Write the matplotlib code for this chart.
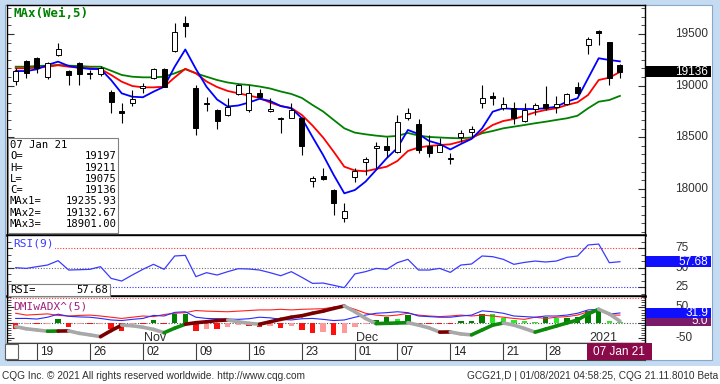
import numpy as np
import matplotlib
matplotlib.use("Agg")
import matplotlib.pyplot as plt
from matplotlib.patches import Rectangle
from matplotlib.collections import LineCollection
from matplotlib.ticker import MultipleLocator

W, H = 720, 384

# ---- daily bars, 15 Oct 2020 .. 07 Jan 2021 ----
opens = [19045, 19239, 19265, 19087, 19297, 19142, 19223, 19110, 19113, 18942,
         18745, 18829, 18980, 19072, 19162, 19336, 19610, 18975, 18820, 18762,
         18716, 18915, 18765, 18926, 18750, 18675, 18690, 18684, 18077, 18125,
         17990, 17715, 18112, 18264, 18398, 18419, 18360, 18684, 18626, 18419,
         18360, 18290, 18506, 18554, 18835, 18903, 18787, 18787, 18658, 18771,
         18820, 18794, 18820, 18990, 19394, 19530, 19420, 19197]
highs = [19169, 19249, 19281, 19233, 19411, 19150, 19233, 19152, 19191, 18958,
         18829, 18958, 19023, 19169, 19174, 19605, 19675, 19007, 18893, 18770,
         18878, 19015, 19007, 18968, 18878, 18695, 18830, 18700, 18128, 18200,
         18000, 17860, 18200, 18312, 18452, 18506, 18716, 18781, 18674, 18522,
         18496, 18345, 18571, 18612, 19007, 18936, 18893, 18845, 18829, 18829,
         18997, 18903, 18932, 19033, 19475, 19540, 19426, 19211]
lows = [19007, 19072, 19126, 19062, 19290, 19007, 19007, 19065, 19094, 18738,
        18641, 18803, 18926, 19062, 18984, 19329, 19469, 18522, 18755, 18580,
        18710, 18905, 18748, 18878, 18742, 18540, 18684, 18328, 18021, 18090,
        17747, 17682, 18070, 18135, 18200, 18312, 18350, 18668, 18345, 18312,
        18355, 18238, 18457, 18506, 18781, 18813, 18765, 18626, 18651, 18716,
        18765, 18733, 18813, 18910, 19304, 19395, 19007, 19075]
closes = [19142, 19120, 19169, 19217, 19353, 19104, 19113, 19115, 19174, 18845,
          18740, 18868, 18990, 19159, 18990, 19523, 19578, 18587, 18825, 18658,
          18797, 19005, 18926, 18893, 18770, 18690, 18765, 18419, 18103, 18096,
          17860, 17789, 18176, 18287, 18403, 18377, 18645, 18733, 18377, 18351,
          18425, 18297, 18539, 18580, 18884, 18878, 18820, 18684, 18765, 18813,
          18787, 18820, 18917, 18926, 19450, 19515, 19072, 19136]

ma1 = [19142, 19142, 19159, 19201, 19233, 19191, 19174, 19162, 19162, 19055,
       18926, 18893, 18888, 18942, 18990, 19184, 19351, 19162, 18990, 18866,
       18798, 18808, 18837, 18873, 18852, 18803, 18781, 18684, 18503, 18328,
       18135, 17957, 17989, 18070, 18183, 18297, 18396, 18571, 18532, 18464,
       18435, 18382, 18435, 18484, 18587, 18748, 18781, 18774, 18774, 18774,
       18781, 18797, 18845, 18878, 19072, 19266, 19249, 19235.93]
ma2 = [19169, 19169, 19174, 19184, 19198, 19184, 19174, 19169, 19162, 19104,
       19039, 18997, 18984, 18984, 18990, 19080, 19164, 19120, 19041, 18987,
       18949, 18926, 18905, 18881, 18837, 18803, 18784, 18716, 18614, 18498,
       18360, 18215, 18178, 18171, 18193, 18215, 18270, 18367, 18401, 18416,
       18425, 18432, 18459, 18488, 18554, 18619, 18658, 18677, 18709, 18742,
       18765, 18781, 18813, 18839, 18910, 19055, 19078, 19132.67]
ma3 = [19184, 19184, 19191, 19194, 19201, 19194, 19191, 19184, 19184, 19145,
       19104, 19087, 19081, 19081, 19087, 19120, 19160, 19120, 19087, 19055,
       19031, 19016, 19007, 18992, 18973, 18944, 18920, 18881, 18813, 18750,
       18668, 18587, 18545, 18529, 18516, 18506, 18513, 18542, 18517, 18503,
       18498, 18493, 18490, 18498, 18539, 18561, 18587, 18603, 18619, 18636,
       18651, 18668, 18684, 18709, 18781, 18845, 18861, 18901.00]

rsi = [50, 49.1, 51.3, 53.4, 59, 47, 47.4, 47.9, 51.3, 36.3,
       32.9, 40.6, 47.9, 54.3, 47.9, 65, 65.8, 38.5, 43.6, 40.6,
       44.9, 48.7, 48.3, 47, 43.6, 39.7, 44.9, 37.6, 29.9, 30.3,
       27.4, 24.4, 42, 44.9, 49.1, 47.9, 56.4, 60.7, 47, 47,
       49.1, 44, 53.4, 54.7, 65, 64.1, 60.7, 54.3, 56.8, 58.5,
       57.3, 58.5, 63.2, 65, 79.1, 80.3, 56.4, 57.68]

di_plus = [14, 14, 12, 18, 28, 21, 19, 18, 14, 9,
           7, 11, 14, 24, 22, 34, 36, 18, 14, 13,
           12, 11, 13, 18, 16, 11, 9, 13, 14, 11,
           7, 9, 18, 25, 31, 33, 36, 33, 22, 20,
           18, 18, 22, 25, 39, 36, 31, 22, 20, 18,
           22, 22, 25, 31, 42, 44, 28, 31.9]
di_minus = [31, 25, 27, 29, 24, 22, 24, 25, 22, 18,
            14, 18, 22, 20, 27, 31, 33, 40, 38, 37,
            36, 38, 40, 42, 42, 44, 42, 44, 45, 46,
            51, 55, 44, 31, 25, 22, 25, 31, 25, 22,
            20, 22, 25, 22, 25, 22, 18, 14, 11, 18,
            14, 18, 20, 25, 36, 42, 25, 25]
dmi_hist = [-20, -5, -5, -4, 13, -13, -5, -5, -4, -22,
            -27, -4, -4, 9, -3, 27, 27, -27, -20, -22,
            -15, -8, -10, -15, -12, -18, -10, -25, -35, -32,
            -40, -35, -13, -3, 10, 20, 13, 24, -3, -3,
            -3, -3, 5, 5, 30, 27, 16, 10, 5, 3,
            20, 16, 16, 20, 38, 45, 5, 3]
wadx = [-13, -20, -24, -28, -27.5, -27, -35, -40, -46, -26,
        -8, -10, -15, -22, -33, -18, -5, 0, 3, 7,
        9, 3, -2, -5, 3, 11, 18, 23, 31, 38,
        47, 55, 36, 14, -3, -2, -1, 0, -8, -17,
        -31, -30.5, -37, -40, -24, -8, -1, -8, -19, -31,
        -21, -11, -1, 9, 29, 44, 29, 5]

week_bars = [2, 7, 12, 17, 22, 27, 32, 36, 41, 46, 50]
week_labels = ["19", "26", "02", "09", "16", "23", "01", "07", "14", "21", "28"]
month_bars = [12, 32, 54]
month_labels = ["Nov", "Dec", "2021"]
last_date = "07 Jan 21"

n = len(closes)
xs = np.arange(n)
X0, STEP = 15.7, 10.6          # pixel of first bar, pixels per bar
XL = ((7 - X0) / STEP, (645 - X0) / STEP)

SANS = "Liberation Sans"
MONO = "DejaVu Sans Mono"

fig = plt.figure(figsize=(W / 100, H / 100), dpi=100)
fig.patch.set_facecolor("white")


def box(x0, y0, x1, y1):
    return [x0 / W, 1 - y1 / H, (x1 - x0) / W, (y1 - y0) / H]


def fig_rect(x0, y0, x1, y1, **kw):
    fig.patches.append(Rectangle((x0 / W, 1 - y1 / H), (x1 - x0) / W, (y1 - y0) / H,
                                 transform=fig.transFigure, **kw))


def ftext(x, y, s, **kw):
    fig.text(x / W, 1 - y / H, s, **kw)


# window frame
for r in [(0, 0, 720, 5), (0, 0, 5, 366), (712, 0, 720, 366), (0, 360, 720, 366)]:
    fig_rect(*r, facecolor="#c4dbf1", edgecolor="none", zorder=-1)
fig_rect(5, 5, 712, 360, facecolor="none", edgecolor="#8aa8c8", linewidth=0.8, zorder=-1)


def panel(y0, y1, ylim, major, minor):
    ax = fig.add_axes(box(7, y0, 645, y1))
    ax.set_xlim(*XL)
    ax.set_ylim(*ylim)
    for s in ax.spines.values():
        s.set_color("black")
        s.set_linewidth(1.0)
    ax.tick_params(axis="x", bottom=False, labelbottom=False)
    ax.yaxis.set_major_locator(MultipleLocator(major))
    ax.yaxis.set_minor_locator(MultipleLocator(minor))
    ax.tick_params(axis="y", which="both", direction="in", left=True, right=True,
                   labelleft=False, labelright=False, color="#303030")
    ax.tick_params(axis="y", which="major", length=5, width=0.8)
    ax.tick_params(axis="y", which="minor", length=3, width=0.6)
    return ax


ax = panel(5, 235, (17553, 19782), 500, 500 / 6)
ax_r = panel(235, 296, (13.7, 91.9), 25, 25 / 3)
ax_d = panel(296, 343, (-66.8, 87.8), 50, 50 / 6)
ax.spines["bottom"].set_linewidth(1.8)
ax_r.spines["bottom"].set_linewidth(1.8)

# ---- price panel ----
ax.plot(xs, ma3, color="#008000", lw=1.3, zorder=2)
ax.plot(xs, ma2, color="#ff0000", lw=1.3, zorder=2)
ax.plot(xs, ma1, color="#0000ff", lw=1.3, zorder=2)
for i in range(n):
    o, h, l, c = opens[i], highs[i], lows[i], closes[i]
    ax.vlines(i, l, h, color="black", lw=0.8, zorder=3)
    up = c >= o
    ax.add_patch(Rectangle((i - 0.24, min(o, c)), 0.48, max(abs(c - o), 14),
                           facecolor="white" if up else "black", edgecolor="black",
                           lw=0.7, zorder=4))

ax.text(0.01, 0.962, "MAx(Wei,5)", transform=ax.transAxes, family=MONO, fontsize=9,
        fontweight="bold", color="#008000", va="center", ha="left")

# OHLC info box
fig_rect(8, 138, 118, 233, facecolor="white", edgecolor="#808080", linewidth=0.8, zorder=6)
ftext(10, 145, last_date, family=MONO, fontsize=7.6, va="center", zorder=7)
info = [("O=", f"{opens[-1]:.0f}"), ("H=", f"{highs[-1]:.0f}"), ("L=", f"{lows[-1]:.0f}"),
        ("C=", f"{closes[-1]:.0f}"), ("MAx1=", f"{ma1[-1]:.2f}"),
        ("MAx2=", f"{ma2[-1]:.2f}"), ("MAx3=", f"{ma3[-1]:.2f}")]
for k, (lab, val) in enumerate(info):
    y = 156.3 + 11.25 * k
    ftext(10, y, lab, family=MONO, fontsize=7.6, va="center", zorder=7)
    ftext(116.5, y, val, family=MONO, fontsize=7.6, va="center", ha="right", zorder=7)

# ---- RSI panel ----
for lvl, col in [(75, "#ff3030"), (50, "#707070"), (25, "#3030ff")]:
    ax_r.axhline(lvl, color=col, lw=0.8, ls=(0, (1, 1.5)), zorder=1)
ax_r.plot(xs, rsi, color="#3a3aff", lw=0.9, zorder=3)
ax_r.text(0.01, 0.86, "RSI(9)", transform=ax_r.transAxes, family=MONO, fontsize=8,
          color="#3a3aff", va="center", ha="left", zorder=5,
          bbox=dict(facecolor="white", edgecolor="none", pad=0.5))
fig_rect(8, 284, 110, 295.5, facecolor="white", edgecolor="#808080", linewidth=0.8, zorder=6)
ftext(10, 290, "RSI=", family=MONO, fontsize=7.6, va="center", zorder=7)
ftext(108, 290, f"{rsi[-1]:.2f}", family=MONO, fontsize=7.6, va="center", ha="right", zorder=7)

# ---- DMI panel ----
ax_d.axhline(80, color="#ff3030", lw=0.8, ls=(0, (1, 1.5)), zorder=1)
ax_d.axhline(0, color="#505050", lw=0.8, ls=(0, (1, 1.5)), zorder=1)
hcols = []
for i, v in enumerate(dmi_hist):
    prev = dmi_hist[i - 1] if i else v
    if v >= 0:
        hcols.append("#008000" if v >= prev else "#22ee22")
    else:
        hcols.append("#ff1010" if v <= prev else "#ff9a9a")
ax_d.bar(xs, dmi_hist, width=0.5, color=hcols, zorder=2)
ax_d.plot(xs, di_minus, color="#ff2020", lw=0.8, zorder=3)
ax_d.plot(xs, di_plus, color="#2a2aff", lw=0.8, zorder=3)
segs, scols = [], []
for i in range(1, n):
    segs.append([(i - 1, wadx[i - 1]), (i, wadx[i])])
    if wadx[i] < wadx[i - 1]:
        scols.append("#a8a8a8")
    elif di_plus[i] >= di_minus[i]:
        scols.append("#0c8a0c")
    else:
        scols.append("#7a0000")
ax_d.add_collection(LineCollection(segs, colors=scols, linewidths=2.6, capstyle="round", zorder=4))
ax_d.text(0.01, 0.78, "DMIwADX^(5)", transform=ax_d.transAxes, family=MONO, fontsize=8,
          color="#a0207a", va="center", ha="left", zorder=5)
for b, lab in zip(month_bars, month_labels):
    ax_d.text(b + 0.15, 0.11, lab, transform=ax_d.get_xaxis_transform(), family=SANS,
              fontsize=9, color="#303030", va="center", ha="left", zorder=6)

# ---- date row ----
ax_t = fig.add_axes(box(7, 343, 645, 360))
ax_t.set_xlim(*XL)
ax_t.set_ylim(0, 1)
ax_t.set_xticks([])
ax_t.set_yticks([])
for s in ax_t.spines.values():
    s.set_color("#404040")
    s.set_linewidth(0.8)
for b, lab in zip(week_bars, week_labels):
    ax_t.axvline(b, color="#404040", lw=0.8)
    ax_t.text(b + 0.3, 0.45, lab, family=SANS, fontsize=8.5, color="#202020",
              va="center", ha="left")
ax_t.add_patch(Rectangle((n - 1 - 3.1, 0.0), 6.15, 1.0, facecolor="#8a0a4a",
                         edgecolor="none", clip_on=False, zorder=5))
ax_t.text(n - 1 - 0.05, 0.45, last_date, family=SANS, fontsize=8.5, color="white",
          va="center", ha="center", zorder=6, clip_on=False)
fig_rect(5, 344, 18, 359, facecolor="white", edgecolor="#606060", linewidth=0.8, zorder=3)


# ---- right-hand scale labels and value tags ----
def ypix(a, v):
    return H - a.transData.transform((0, v))[1]


def rlabel(a, v, s):
    ftext(675, ypix(a, v), s, family=SANS, fontsize=8.5, color="#303030",
          va="center", ha="left", zorder=2)


def tag(a, v, s, fc, h=11, z=5):
    y = ypix(a, v)
    fig_rect(645.5, y - h / 2, 711, y + h / 2, facecolor=fc, edgecolor="none", zorder=z)
    ftext(708, y, s, family=SANS, fontsize=8.5, color="white", va="center",
          ha="right", zorder=z + 0.5)


for v in [18000, 18500, 19000, 19500]:
    rlabel(ax, v, str(v))
for v in [25, 50, 75]:
    rlabel(ax_r, v, str(v))
for v in [-50, 50]:
    rlabel(ax_d, v, str(v))
tag(ax, closes[-1], f"{closes[-1]:.0f}", "black")
tag(ax_r, rsi[-1], f"{rsi[-1]:.2f}", "#1010ff")
tag(ax_d, wadx[-1], f"{wadx[-1]:.1f}", "#7a1a6a", h=10, z=5)
tag(ax_d, di_plus[-1], f"{di_plus[-1]:.1f}", "#1010ff", h=10, z=7)

# footer
ftext(2, 376, "CQG Inc. \u00a9 2021 All rights reserved worldwide. http://www.cqg.com",
      family=SANS, fontsize=7.3, color="#303030", va="center", ha="left")
ftext(718, 376, "GCG21,D | 01/08/2021 04:58:25, CQG 21.11.8010 Beta",
      family=SANS, fontsize=7.3, color="#303030", va="center", ha="right")

fig.savefig("out.png", dpi=100)
